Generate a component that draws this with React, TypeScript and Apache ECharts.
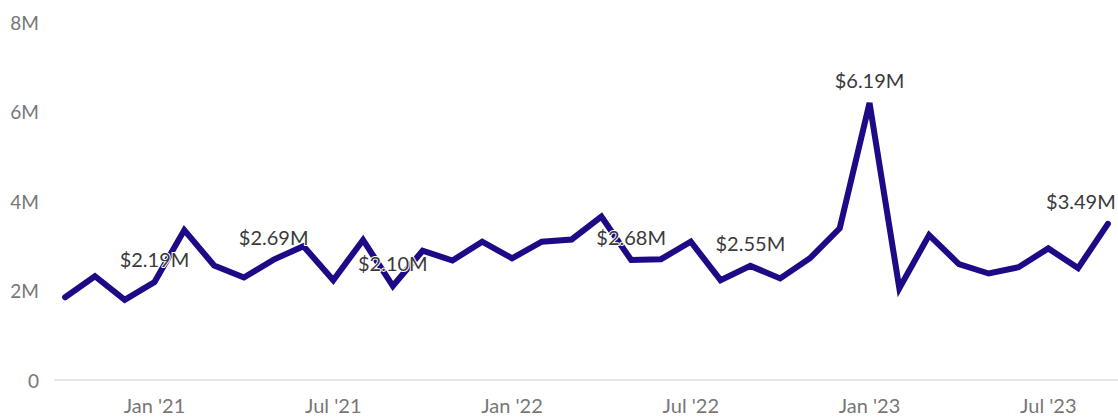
import React, { useEffect, useRef } from "react";
import * as echarts from "echarts";

// Monthly values, Oct 2020 .. Sep 2023 (in millions)
const months: string[] = [
  "Oct 2020", "Nov 2020", "Dec 2020",
  "Jan 2021", "Feb 2021", "Mar 2021", "Apr 2021", "May 2021", "Jun 2021",
  "Jul 2021", "Aug 2021", "Sep 2021", "Oct 2021", "Nov 2021", "Dec 2021",
  "Jan 2022", "Feb 2022", "Mar 2022", "Apr 2022", "May 2022", "Jun 2022",
  "Jul 2022", "Aug 2022", "Sep 2022", "Oct 2022", "Nov 2022", "Dec 2022",
  "Jan 2023", "Feb 2023", "Mar 2023", "Apr 2023", "May 2023", "Jun 2023",
  "Jul 2023", "Aug 2023", "Sep 2023",
];
const values: number[] = [
  1.85, 2.32, 1.79, 2.19, 3.35, 2.56, 2.29, 2.69, 2.99, 2.23, 3.13, 2.10,
  2.89, 2.67, 3.09, 2.72, 3.09, 3.14, 3.65, 2.68, 2.70, 3.09, 2.23, 2.55,
  2.27, 2.72, 3.39, 6.19, 2.05, 3.24, 2.59, 2.38, 2.52, 2.94, 2.50, 3.49,
];
const labelledIdx: number[] = [3, 7, 11, 19, 23, 27, 35];
const tickIdx: number[] = [3, 9, 15, 21, 27, 33];
const tickLabels: string[] = ["Jan '21", "Jul '21", "Jan '22", "Jul '22", "Jan '23", "Jul '23"];

export default function App() {
  const ref = useRef<HTMLDivElement>(null);
  useEffect(() => {
    if (!ref.current) return;
    const chart = echarts.init(ref.current, undefined, { renderer: "svg" });
    const last = values.length - 1;
    const data = values.map((v, i) => ({
      name: months[i],
      value: [i, v * 1e6],
      label: { show: labelledIdx.includes(i) },
    }));
    chart.setOption({
      animation: false,
      grid: { left: 55, right: 0, top: 22, bottom: 37 },
      xAxis: {
        type: "value",
        min: -0.34,
        max: 35.34,
        splitLine: { show: false },
        axisLine: { show: true, lineStyle: { color: "#e6e6e6", width: 2 } },
        axisTick: { show: false },
        axisLabel: {
          customValues: tickIdx,
          formatter: (v: number) => tickLabels[tickIdx.indexOf(Math.round(v))] ?? "",
          color: "#777",
          fontFamily: "Lato",
          fontSize: 20,
          margin: 15,
        },
      },
      yAxis: {
        type: "value",
        min: 0,
        max: 8e6,
        interval: 2e6,
        splitLine: { show: false },
        axisLine: { show: false },
        axisTick: { show: false },
        axisLabel: {
          formatter: (v: number) => (v === 0 ? "0" : v / 1e6 + "M"),
          color: "#777",
          fontFamily: "Lato",
          fontSize: 19,
          margin: 16,
        },
      },
      series: [
        {
          type: "line",
          data,
          symbol: "circle",
          symbolSize: 0.1,
          showSymbol: true,
          showAllSymbol: true,
          lineStyle: { color: "#1c0a87", width: 6, join: "miter", cap: "round" },
          itemStyle: { color: "#1c0a87" },
          label: {
            show: false,
            position: "top",
            distance: 13,
            formatter: (p: any) => "$" + (p.value[1] / 1e6).toFixed(2) + "M",
            color: "#3a3a3a",
            fontFamily: "Lato",
            fontSize: 20,
            textBorderColor: "#fff",
            textBorderWidth: 2,
          },
          labelLayout: (p: any) =>
            p.dataIndex === last ? { dx: -27, hideOverlap: false } : { hideOverlap: false },
          z: 3,
        },
      ],
    });
    return () => chart.dispose();
  }, []);
  return (
    <div
      ref={ref}
      style={{ position: "absolute", left: 0, top: 0, width: 1118, height: 417 }}
    />
  );
}
